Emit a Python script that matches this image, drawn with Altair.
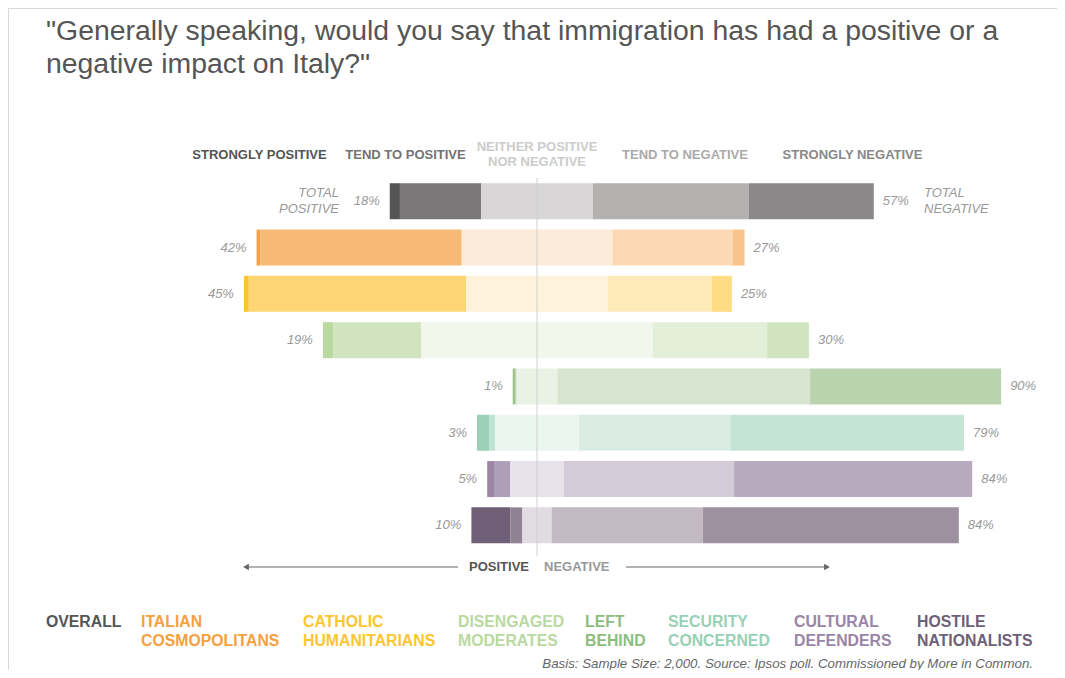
import altair as alt
import pandas as pd

# ---------------- data ----------------
groups = ["Overall", "Italian Cosmopolitans", "Catholic Humanitarians",
          "Disengaged Moderates", "Left Behind", "Security Concerned",
          "Cultural Defenders", "Hostile Nationalists"]
segments = ["Strongly positive", "Tend to positive", "Neither positive nor negative",
            "Tend to negative", "Strongly negative"]
strongly_positive = [2.1, 0.8, 1.0, 2.1, 0.6, 2.5, 1.4, 8.0]
tend_positive = [16.7, 41.4, 44.7, 18.1, 0.2, 1.2, 3.3, 2.5]
neither = [23.0, 31.0, 29.2, 47.7, 8.4, 17.3, 11.1, 6.0]
tend_negative = [32.1, 24.7, 21.4, 23.5, 52.0, 31.1, 35.0, 31.1]
strongly_negative = [25.7, 2.5, 4.1, 8.6, 39.3, 48.1, 49.0, 52.7]
total_positive_labels = ["18%", "42%", "45%", "19%", "1%", "3%", "5%", "10%"]
total_negative_labels = ["57%", "27%", "25%", "30%", "90%", "79%", "84%", "84%"]
legend_lines = [["OVERALL", ""], ["ITALIAN", "COSMOPOLITANS"], ["CATHOLIC", "HUMANITARIANS"],
                ["DISENGAGED", "MODERATES"], ["LEFT", "BEHIND"], ["SECURITY", "CONCERNED"],
                ["CULTURAL", "DEFENDERS"], ["HOSTILE", "NATIONALISTS"]]
title_lines = ['"Generally speaking, would you say that immigration has had a positive or a',
               'negative impact on Italy?"']
footnote = "Basis: Sample Size: 2,000. Source: Ipsos poll. Commissioned by More in Common."

# ---------------- styles ----------------
palette = {
    "Overall": ["#555555", "#7a7878", "#d8d6d7", "#b2b1af", "#8a8888"],
    "Italian Cosmopolitans": ["#f5a042", "#f8b977", "#fdebda", "#fcd9b4", "#f9c48a"],
    "Catholic Humanitarians": ["#fdc431", "#fed674", "#fff2dc", "#fee9b9", "#fedc84"],
    "Disengaged Moderates": ["#b9d9a0", "#d0e5bf", "#f1f7ea", "#e4efda", "#d0e5bf"],
    "Left Behind": ["#9cc58c", "#b8d3ae", "#e9f2e5", "#d7e4cf", "#b8d3ae"],
    "Security Concerned": ["#9bd0b6", "#bfe3d3", "#ecf6f0", "#dbede3", "#c6e4d5"],
    "Cultural Defenders": ["#9a85a4", "#ae9fb8", "#e8e2ea", "#d3cbd8", "#b8aabe"],
    "Hostile Nationalists": ["#6f6078", "#8f8293", "#e1dce2", "#c2b9c5", "#9e919f"],
}
legend_colors = ["#555555", "#f7a040", "#fdc52f", "#b9d9a0", "#8dbd7c", "#98d1b6", "#9a85a6", "#6e5f79"]
legend_x = [38, 133, 295, 450, 577, 660, 786, 909]
FONT = "Liberation Sans"
W, H = 1049, 662
PX_PER_PCT = 4.86
CENTER_PX = 529

# ---------------- build tables ----------------
rows = []
labels = []
vals = list(zip(strongly_positive, tend_positive, neither, tend_negative, strongly_negative))
for g, v, lp, ln in zip(groups, vals, total_positive_labels, total_negative_labels):
    start = -(v[0] + v[1] + v[2] / 2)
    x = start
    for s, val in zip(segments, v):
        rows.append({"group": g, "segment": s, "x": x, "x2": x + val,
                     "key": g + "|" + s, "value": val})
        x += val
    labels.append({"group": g, "left": start, "right": x, "lp": lp, "ln": ln})
bars = pd.DataFrame(rows)
lab = pd.DataFrame(labels)

color_domain = [g + "|" + s for g in groups for s in segments]
color_range = [c for g in groups for c in palette[g]]

xscale = alt.Scale(domain=[-CENTER_PX / PX_PER_PCT, (W - CENTER_PX) / PX_PER_PCT], nice=False, zero=False)
yscale = alt.Scale(domain=groups, range=[175, 535.6], paddingInner=0.212, paddingOuter=0)

bar_layer = alt.Chart(bars).mark_bar(size=36).encode(
    x=alt.X("x:Q", scale=xscale, axis=None),
    x2="x2:Q",
    y=alt.Y("group:N", scale=yscale, axis=None, sort=groups),
    color=alt.Color("key:N", scale=alt.Scale(domain=color_domain, range=color_range), legend=None),
    tooltip=["group", "segment", "value"],
)

pct_style = dict(font=FONT, fontSize=13, fontStyle="italic", color="#999999", baseline="middle")
left_lab = alt.Chart(lab).mark_text(align="right", dx=-10, **pct_style).encode(
    x=alt.X("left:Q", scale=xscale), y=alt.Y("group:N", scale=yscale, sort=groups), text="lp:N")
right_lab = alt.Chart(lab).mark_text(align="left", dx=9, **pct_style).encode(
    x=alt.X("right:Q", scale=xscale), y=alt.Y("group:N", scale=yscale, sort=groups), text="ln:N")

center_rule = alt.Chart(pd.DataFrame({"v": [0]})).mark_rule(color="#d0d0d0", strokeWidth=1).encode(
    x=alt.X("v:Q", scale=xscale), y=alt.value(170), y2=alt.value(548))


def txt(text, x, y, **kw):
    style = dict(font=FONT, fontSize=13, baseline="middle", align="left")
    style.update(kw)
    return alt.Chart(pd.DataFrame({"t": [text]})).mark_text(**style).encode(
        text="t:N", x=alt.value(x), y=alt.value(y))


def hline(x1, x2, y, color, width=1.0):
    return alt.Chart(pd.DataFrame({"a": [0]})).mark_rule(color=color, strokeWidth=width).encode(
        x=alt.value(x1), x2=alt.value(x2), y=alt.value(y))


# frame (top and left edges, as in the reference)
frame_top = hline(0, W, 0.5, "#d9d9d9")
frame_left = alt.Chart(pd.DataFrame({"a": [0]})).mark_rule(color="#d9d9d9", strokeWidth=1).encode(
    x=alt.value(0.5), y=alt.value(0), y2=alt.value(H))

layers = [frame_top, frame_left, bar_layer, center_rule, left_lab, right_lab]

# title
layers.append(txt(title_lines[0], 38, 32, fontSize=28.4, color="#555555", baseline="alphabetic"))
layers.append(txt(title_lines[1], 38, 65, fontSize=28.4, color="#555555", baseline="alphabetic"))

# header labels
hdr = dict(fontWeight="bold", align="center")
layers.append(txt("STRONGLY POSITIVE", 251.5, 147, color="#555555", **hdr))
layers.append(txt("TEND TO POSITIVE", 397.5, 147, color="#737373", **hdr))
layers.append(txt("NEITHER POSITIVE", 529, 139, color="#cccccc", **hdr))
layers.append(txt("NOR NEGATIVE", 529, 154, color="#cccccc", **hdr))
layers.append(txt("TEND TO NEGATIVE", 677, 147, color="#aaaaaa", **hdr))
layers.append(txt("STRONGLY NEGATIVE", 844.5, 147, color="#888888", **hdr))

# total labels on the overall row
tot = dict(fontStyle="italic", color="#999999")
layers.append(txt("TOTAL", 331, 185, align="right", **tot))
layers.append(txt("POSITIVE", 331, 201, align="right", **tot))
layers.append(txt("TOTAL", 916, 185, **tot))
layers.append(txt("NEGATIVE", 916, 201, **tot))

# bottom arrows
arrow_color = "#666666"
layers.append(hline(237, 450, 559, arrow_color, 1.2))
layers.append(hline(618, 820, 559, arrow_color, 1.2))
layers.append(alt.Chart(pd.DataFrame({"a": [0]})).mark_point(
    shape="triangle-left", filled=True, size=45, color=arrow_color, opacity=1).encode(
    x=alt.value(238), y=alt.value(559)))
layers.append(alt.Chart(pd.DataFrame({"a": [0]})).mark_point(
    shape="triangle-right", filled=True, size=45, color=arrow_color, opacity=1).encode(
    x=alt.value(819), y=alt.value(559)))
layers.append(txt("POSITIVE", 521, 559, align="right", fontWeight="bold", color="#555555"))
layers.append(txt("NEGATIVE", 536, 559, fontWeight="bold", color="#999999"))

# group legend
for (l1, l2), c, lx in zip(legend_lines, legend_colors, legend_x):
    layers.append(txt(l1, lx, 614, fontSize=15.8, fontWeight="bold", color=c))
    if l2:
        layers.append(txt(l2, lx, 633, fontSize=15.8, fontWeight="bold", color=c))

# footnote
layers.append(txt(footnote, 1025, 656, align="right", fontSize=13.3, fontStyle="italic", color="#666666"))

chart = alt.layer(*layers).properties(
    width=W, height=H, padding=0,
    autosize=alt.AutoSizeParams(type="none"),
).configure_view(stroke=None).configure(background="white")

chart.save("out.html", embed_options={"renderer": "svg", "actions": False})
